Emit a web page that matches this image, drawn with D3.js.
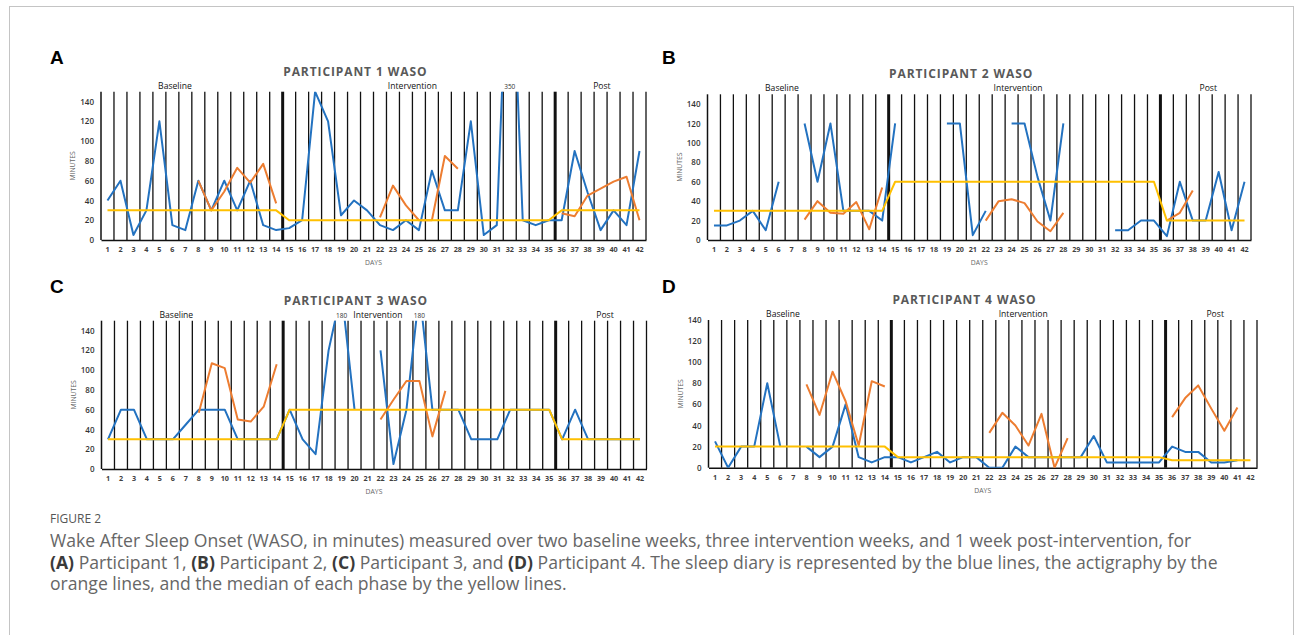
<!DOCTYPE html>
<html>
<head>
<meta charset="utf-8">
<script src="https://cdn.jsdelivr.net/npm/d3@7"></script>
<style>
body { margin: 0; background: #fff; }
svg { display: block; }
</style>
</head>
<body>
<svg id="fig" width="1295" height="635"></svg>
<script>
var days = d3.range(1, 43);
var yTicks = [0, 20, 40, 60, 80, 100, 120, 140];
var phaseNames = ["Baseline", "Intervention", "Post"];
var phaseStarts = [15, 36];

var diary1 = [40, 60, 5, 30, 120, 15, 10, 60, 30, 60, 30, 60, 15, 10,
    12, 20, 150, 120, 25, 40, 30, 15, 10, 20, 10, 70, 30, 30, 120, 5, 15, 350, 20, 15, 20,
    20, 90, 48, 10, 30, 15, 90];
var acti1 = [null, null, null, null, null, null, null, 60, 30, 49, 73, 58, 77, 37,
    null, null, null, null, null, null, null, 23, 55, 35, 20, 20, 85, 72, null, null, null, null, null, null, null,
    27, 24, 45, 52, 59, 64, 20];
var median1 = [30, 30, 30, 30, 30, 30, 30, 30, 30, 30, 30, 30, 30, 30,
    20, 20, 20, 20, 20, 20, 20, 20, 20, 20, 20, 20, 20, 20, 20, 20, 20, 20, 20, 20, 20,
    30, 30, 30, 30, 30, 30, 30];

var diary2 = [15, 15, 20, 30, 10, 60, null, 120, 60, 120, 30, 30, 30, 20,
    120, null, null, null, 120, 120, 5, 30, null, 120, 120, 65, 20, 120, null, null, null, 10, 10, 20, 20,
    4, 60, 20, 20, 70, 10, 60];
var acti2 = [null, null, null, null, null, null, null, 21, 40, 28, 27, 39, 11, 54,
    null, null, null, null, null, null, null, 20, 40, 42, 38, 19, 9, 28, null, null, null, null, null, null, null,
    20, 28, 51, null, null, null, null];
var median2 = [30, 30, 30, 30, 30, 30, 30, 30, 30, 30, 30, 30, 30, 30,
    60, 60, 60, 60, 60, 60, 60, 60, 60, 60, 60, 60, 60, 60, 60, 60, 60, 60, 60, 60, 60,
    20, 20, 20, 20, 20, 20, 20];

var diary3 = [30, 60, 60, 30, 30, 30, 45, 60, 60, 60, 30, 30, 30, 30,
    60, 30, 15, 120, 180, 60, null, 120, 5, 60, 180, 60, 60, 60, 30, 30, 30, 60, 60, 60, 60,
    30, 60, 30, 30, 30, 30, 30];
var acti3 = [null, null, null, null, null, null, null, 57, 107, 102, 50, 48, 63, 106,
    null, null, null, null, null, null, null, 50, 70, 89, 89, 33, 79, null, null, null, null, null, null, null, null,
    null, null, null, null, null, null, null];
var median3 = [30, 30, 30, 30, 30, 30, 30, 30, 30, 30, 30, 30, 30, 30,
    60, 60, 60, 60, 60, 60, 60, 60, 60, 60, 60, 60, 60, 60, 60, 60, 60, 60, 60, 60, 60,
    30, 30, 30, 30, 30, 30, 30];

var diary4 = [25, 0, 20, 20, 80, 20, null, 20, 10, 20, 60, 10, 5, 10,
    10, 5, 10, 15, 5, 10, 10, 0, 0, 20, 10, 10, 10, 10, 10, 30, 5, 5, 5, 5, 5,
    20, 15, 15, 5, 5, 7, null];
var acti4 = [null, null, null, null, null, null, null, 79, 50, 91, 63, 21, 82, 77,
    null, null, null, null, null, null, null, 33, 52, 40, 21, 51, 0, 28, null, null, null, null, null, null, null,
    48, 66, 78, 56, 35, 57, null];
var median4 = [20, 20, 20, 20, 20, 20, 20, 20, 20, 20, 20, 20, 20, 20,
    10, 10, 10, 10, 10, 10, 10, 10, 10, 10, 10, 10, 10, 10, 10, 10, 10, 10, 10, 10, 10,
    7, 7, 7, 7, 7, 7, 7];

var panels = [
    { letter: "A", title: "PARTICIPANT 1 WASO", diary: diary1, acti: acti1, median: median1, yMax: 150,
      x0: 101, x1: 646, y0: 91.7, y1: 240, lx: 50, ly: 64, phaseAt: [6.2, 24.5, 39.1] },
    { letter: "B", title: "PARTICIPANT 2 WASO", diary: diary2, acti: acti2, median: median2, yMax: 150,
      x0: 707.5, x1: 1251, y0: 94.3, y1: 240, lx: 662, ly: 64, phaseAt: [6.25, 24.5, 39.2] },
    { letter: "C", title: "PARTICIPANT 3 WASO", diary: diary3, acti: acti3, median: median3, yMax: 150,
      x0: 101.5, x1: 646.5, y0: 320.7, y1: 469, lx: 50, ly: 293, phaseAt: [6.27, 21.8, 39.3] },
    { letter: "D", title: "PARTICIPANT 4 WASO", diary: diary4, acti: acti4, median: median4, yMax: 140,
      x0: 708.5, x1: 1257, y0: 320, y1: 467.7, lx: 662, ly: 293, phaseAt: [6.2, 24.6, 39.3] }
];

var blue = "#2372c0", orange = "#ed7d31", yellow = "#ffc000";
var font = "'Open Sans', sans-serif";

var svg = d3.select("#fig");

// frame
svg.append("rect")
    .attr("x", 9.5).attr("y", 6.5)
    .attr("width", 1284).attr("height", 660)
    .attr("fill", "none").attr("stroke", "#c4c4c4");

function drawPanel(p, idx) {
    var g = svg.append("g");
    var x = d3.scaleBand().domain(days).range([p.x0, p.x1]);
    var bw = x.bandwidth();
    var cx = function (d) { return x(d) + bw / 2; };
    var xAt = function (t) { return p.x0 + (t - 0.5) * bw; };
    var y = d3.scaleLinear().domain([0, p.yMax]).range([p.y1, p.y0]);

    g.append("clipPath").attr("id", "clip" + idx)
        .append("rect")
        .attr("x", p.x0).attr("y", p.y0)
        .attr("width", p.x1 - p.x0).attr("height", p.y1 - p.y0);

    // day separators
    var seps = days.slice(1).concat([43]);
    g.selectAll("line.sep").data(seps).enter().append("line")
        .attr("class", "sep")
        .attr("x1", function (d) { return d == 43 ? p.x1 : x(d); })
        .attr("x2", function (d) { return d == 43 ? p.x1 : x(d); })
        .attr("y1", p.y0).attr("y2", p.y1)
        .attr("stroke", "#111")
        .attr("stroke-width", function (d) { return phaseStarts.indexOf(d) >= 0 ? 3 : 1.3; });

    // axes
    var yAxis = g.append("g")
        .attr("transform", "translate(" + p.x0 + ",0)")
        .call(d3.axisLeft(y).tickValues(yTicks).tickSize(0).tickPadding(7));
    yAxis.select(".domain").attr("stroke", "#111").attr("stroke-width", 1.5)
        .attr("d", "M0," + p.y1 + "V" + p.y0);
    yAxis.selectAll("text")
        .style("font-family", font).style("font-size", "8px")
        .style("font-weight", 600).attr("fill", "#333");

    var xAxis = g.append("g")
        .attr("transform", "translate(0," + p.y1 + ")")
        .call(d3.axisBottom(x).tickSize(0).tickPadding(7));
    xAxis.select(".domain").attr("stroke", "#111").attr("stroke-width", 1.5);
    xAxis.selectAll("text")
        .style("font-family", font).style("font-size", "7.2px")
        .style("font-weight", 700).attr("fill", "#404040");

    g.append("text")
        .attr("transform", "translate(" + (p.x0 - 26) + "," + ((p.y0 + p.y1) / 2) + ") rotate(-90)")
        .attr("text-anchor", "middle")
        .style("font-family", font).style("font-size", "6.8px")
        .attr("fill", "#666").text("MINUTES");

    g.append("text")
        .attr("x", (p.x0 + p.x1) / 2).attr("y", p.y1 + 25)
        .attr("text-anchor", "middle")
        .style("font-family", font).style("font-size", "6.8px")
        .attr("fill", "#666").text("DAYS");

    // titles
    g.append("text")
        .attr("x", xAt(20.1)).attr("y", p.y0 - 16)
        .attr("text-anchor", "middle")
        .style("font-family", font).style("font-size", "12px")
        .style("font-weight", 700).style("letter-spacing", "0.9px")
        .attr("fill", "#595959").text(p.title);

    g.selectAll("text.phase").data(phaseNames).enter().append("text")
        .attr("class", "phase")
        .attr("x", function (d, i) { return xAt(p.phaseAt[i]); })
        .attr("y", p.y0 - 3)
        .attr("text-anchor", "middle")
        .style("font-family", font).style("font-size", "8.6px")
        .attr("fill", "#111").text(function (d) { return d; });

    svg.append("text")
        .attr("x", p.lx).attr("y", p.ly)
        .style("font-family", "'Liberation Sans', Arial, sans-serif")
        .style("font-size", "19px").style("font-weight", 700)
        .attr("fill", "#000").text(p.letter);

    // series
    var line = d3.line()
        .defined(function (v) { return v != null; })
        .x(function (v, i) { return cx(days[i]); })
        .y(function (v) { return y(v); });

    var series = g.append("g").attr("clip-path", "url(#clip" + idx + ")");
    [[p.diary, blue], [p.acti, orange], [p.median, yellow]].forEach(function (s) {
        series.append("path")
            .datum(s[0])
            .attr("d", line)
            .attr("fill", "none")
            .attr("stroke", s[1])
            .attr("stroke-width", 2)
            .attr("stroke-linejoin", "round");
    });

    // labels for diary values beyond the axis
    var over = days.filter(function (d, i) { return p.diary[i] != null && p.diary[i] > p.yMax; });
    g.selectAll("text.over").data(over).enter().append("text")
        .attr("class", "over")
        .attr("x", function (d) { return cx(d); })
        .attr("y", p.y0 - 2.5)
        .attr("text-anchor", "middle")
        .style("font-family", font).style("font-size", "6.5px")
        .attr("fill", "#333")
        .text(function (d) { return p.diary[d - 1]; });
}

panels.forEach(drawPanel);

// caption
var cap = svg.append("g")
    .style("font-family", font)
    .attr("fill", "#666");
cap.append("text")
    .attr("x", 50).attr("y", 523)
    .style("font-size", "12px")
    .attr("fill", "#555")
    .text("FIGURE 2");

var captionLines = [
    [["Wake After Sleep Onset (WASO, in minutes) measured over two baseline weeks, three intervention weeks, and 1 week post-intervention, for", false]],
    [["(A)", true], [" Participant 1, ", false], ["(B)", true], [" Participant 2, ", false], ["(C)", true],
     [" Participant 3, and ", false], ["(D)", true],
     [" Participant 4. The sleep diary is represented by the blue lines, the actigraphy by the", false]],
    [["orange lines, and the median of each phase by the yellow lines.", false]]
];
captionLines.forEach(function (parts, i) {
    var t = cap.append("text")
        .attr("x", 50).attr("y", 547 + i * 21.5)
        .style("font-size", "17.6px");
    parts.forEach(function (pt) {
        t.append("tspan")
            .style("font-weight", pt[1] ? 700 : 400)
            .attr("fill", pt[1] ? "#3a3a3a" : null)
            .text(pt[0]);
    });
});
</script>
</body>
</html>
